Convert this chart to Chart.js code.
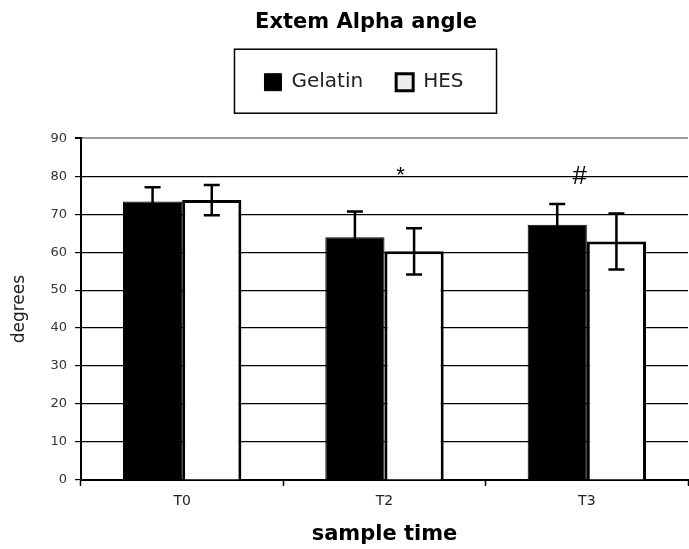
<!DOCTYPE html>
<html>
<head>
<meta charset="utf-8">
<script src="https://cdn.jsdelivr.net/npm/chart.js@4/dist/chart.umd.min.js"></script>
<style>
  html, body { margin: 0; padding: 0; background: #fff; }
  #wrap { width: 689px; height: 549px; }
</style>
</head>
<body>
<div id="wrap"><canvas id="chart"></canvas></div>
<script>
// --- datos ---
const categories = ['T0', 'T2', 'T3'];
const gelatinMean = [73.3, 63.9, 67.2];
const gelatinSD = [3.8, 6.8, 5.5];
const hesMean = [73.7, 60.2, 62.8];
const hesSD = [4.0, 6.1, 7.4];
const sigMarks = ['', '*', '#'];
const yMin = 0;
const yMax = 90;
const yStep = 10;

const FONT = 'DejaVu Sans';

// barras de error (media +/- SD)
const errorBars = {
  id: 'errorBars',
  afterDatasetsDraw(chart) {
    const { ctx, scales: { y } } = chart;
    ctx.save();
    ctx.strokeStyle = '#000';
    ctx.lineWidth = 2.5;
    chart.data.datasets.forEach((ds, di) => {
      const meta = chart.getDatasetMeta(di);
      meta.data.forEach((bar, i) => {
        const hi = y.getPixelForValue(ds.data[i] + ds.errors[i]);
        const lo = y.getPixelForValue(ds.data[i] - ds.errors[i]);
        const x = bar.x;
        ctx.beginPath();
        ctx.moveTo(x, hi); ctx.lineTo(x, lo);
        ctx.moveTo(x - 8, hi); ctx.lineTo(x + 8, hi);
        ctx.moveTo(x - 8, lo); ctx.lineTo(x + 8, lo);
        ctx.stroke();
      });
    });
    ctx.restore();
  }
};

// marcas de significancia sobre T2 y T3
const markNudge = [0, 16, -7];
const sigLabels = {
  id: 'sigLabels',
  afterDraw(chart) {
    const { ctx, scales: { x, y } } = chart;
    ctx.save();
    ctx.fillStyle = '#000';
    ctx.textAlign = 'center';
    ctx.textBaseline = 'alphabetic';
    sigMarks.forEach((m, i) => {
      if (!m) return;
      ctx.font = (m === '#' ? '26px' : '22px') + ' "Liberation Sans"';
      ctx.fillText(m, x.getPixelForValue(i) + markNudge[i], y.getPixelForValue(m === '#' ? 78.0 : 78.5));
    });
    ctx.restore();
  }
};

// recuadro alrededor de la leyenda, espacio debajo y desplazamiento a la derecha
const legendFrame = {
  id: 'legendFrame',
  beforeInit(chart) {
    const origFit = chart.legend.fit;
    chart.legend.fit = function () {
      origFit.bind(chart.legend)();
      this.height += 36;
    };
  },
  afterUpdate(chart) {
    const lg = chart.legend;
    lg.left += 20; lg.right += 20;
    (lg.legendHitBoxes || []).forEach(b => { b.left += 20; });
    const tb = chart.titleBlock;
    if (tb) { tb.left += 22; tb.right += 22; }
  },
  afterDraw(chart) {
    const boxes = chart.legend.legendHitBoxes;
    if (!boxes || !boxes.length) return;
    const left = Math.min(...boxes.map(b => b.left)) - 30;
    const right = Math.max(...boxes.map(b => b.left + b.width)) + 33;
    const top = Math.min(...boxes.map(b => b.top)) - 23;
    const bottom = Math.max(...boxes.map(b => b.top + b.height)) + 21;
    const ctx = chart.ctx;
    ctx.save();
    ctx.strokeStyle = '#000';
    ctx.lineWidth = 1.5;
    ctx.strokeRect(left, top, right - left, bottom - top);
    ctx.restore();
  }
};

const whiteBg = {
  id: 'whiteBg',
  beforeDraw(chart) {
    const ctx = chart.ctx;
    ctx.save();
    ctx.fillStyle = '#fff';
    ctx.fillRect(0, 0, chart.width, chart.height);
    ctx.restore();
  }
};

new Chart(document.getElementById('chart'), {
  type: 'bar',
  data: {
    labels: categories,
    datasets: [
      {
        label: 'Gelatin',
        data: gelatinMean,
        errors: gelatinSD,
        backgroundColor: '#000',
        borderColor: '#000',
        borderWidth: 1,
        barPercentage: 1,
        categoryPercentage: 0.585
      },
      {
        label: 'HES',
        data: hesMean,
        errors: hesSD,
        backgroundColor: '#fff',
        borderColor: '#000',
        borderWidth: 3,
        barPercentage: 1,
        categoryPercentage: 0.585
      }
    ]
  },
  options: {
    responsive: true,
    maintainAspectRatio: false,
    animation: false,
    layout: { padding: { left: 0, right: 1, top: 0, bottom: 0 } },
    plugins: {
      title: {
        display: true,
        text: 'Extem Alpha angle',
        color: '#000',
        font: { family: FONT, size: 21, weight: 'bold' },
        padding: { top: 10, bottom: 4 }
      },
      legend: {
        display: true,
        labels: {
          color: '#222',
          font: { family: FONT, size: 20 },
          boxWidth: 17,
          boxHeight: 17,
          padding: 33,
          generateLabels(chart) {
            const items = Chart.defaults.plugins.legend.labels.generateLabels(chart);
            items.forEach(it => {
              if (it.text === 'HES') { it.fillStyle = '#eee'; it.lineWidth = 3; }
            });
            return items;
          }
        }
      },
      tooltip: { enabled: false }
    },
    scales: {
      x: {
        offset: true,
        afterFit(scale) { scale.height = 69; },
        grid: {
          display: true,
          offset: true,
          drawOnChartArea: false,
          drawTicks: true,
          tickLength: 6,
          tickColor: '#000',
          tickWidth: 1.5
        },
        border: { display: true, color: '#000', width: 2 },
        ticks: {
          color: '#222',
          font: { family: FONT, size: 14 },
          padding: 7
        },
        title: {
          display: true,
          text: 'sample time',
          color: '#000',
          font: { family: FONT, size: 21, weight: 'bold' },
          padding: { top: 0, bottom: 2 }
        }
      },
      y: {
        min: yMin,
        max: yMax,
        afterFit(scale) { scale.width = 81; },
        grid: {
          color: ctx => (ctx.tick && ctx.tick.value === yMax ? '#999' : '#000'),
          lineWidth: ctx => (ctx.tick && ctx.tick.value === yMax ? 2 : 1.2),
          drawTicks: true,
          tickLength: 6,
          tickColor: '#000'
        },
        border: { display: true, color: '#000', width: 2 },
        ticks: {
          stepSize: yStep,
          color: '#333',
          font: { family: FONT, size: 13 },
          padding: 8
        },
        title: {
          display: true,
          text: 'degrees',
          color: '#222',
          font: { family: FONT, size: 17 },
          padding: { top: 9, bottom: 4 }
        }
      }
    }
  },
  plugins: [whiteBg, errorBars, sigLabels, legendFrame]
});
</script>
</body>
</html>
